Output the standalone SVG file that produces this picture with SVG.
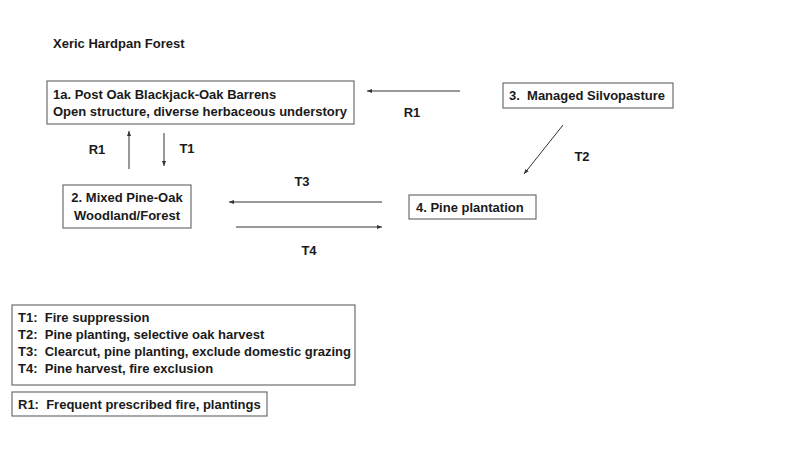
<svg xmlns="http://www.w3.org/2000/svg" width="800" height="450" viewBox="0 0 800 450">
<defs>
<style>
text{font-family:"Liberation Sans",Arial,sans-serif;font-weight:bold;font-size:13px;fill:#1a1a1a;white-space:pre}
.box{fill:#fff;stroke:#6e6e6e;stroke-width:1.2}
.ln{stroke:#333;stroke-width:1;fill:none;marker-end:url(#ah)}
.c{text-anchor:middle}
</style>
<marker id="ah" markerWidth="6" markerHeight="6" refX="5" refY="3" orient="auto" markerUnits="userSpaceOnUse">
<path d="M0,1 L5,3 L0,5 Z" fill="#333"/>
</marker>
</defs>
<rect width="800" height="450" fill="#fff"/>
<text x="53" y="48">Xeric Hardpan Forest</text>
<g id="n1a">
<rect class="box" x="47" y="81" width="307" height="43"/>
<text x="53" y="99">1a. Post Oak Blackjack-Oak Barrens</text>
<text x="53" y="116">Open structure, diverse herbaceous understory</text>
</g>
<g id="n3">
<rect class="box" x="503" y="83" width="170" height="25"/>
<text x="509" y="100" xml:space="preserve">3.  Managed Silvopasture</text>
</g>
<g id="n2">
<rect class="box" x="63" y="185" width="128" height="43"/>
<text class="c" x="127" y="202">2. Mixed Pine-Oak</text>
<text class="c" x="127" y="220">Woodland/Forest</text>
</g>
<g id="n4">
<rect class="box" x="409" y="195" width="127" height="24"/>
<text x="416" y="212">4. Pine plantation</text>
</g>
<g id="connectors">
<line class="ln" x1="460" y1="91" x2="367" y2="91"/>
<line class="ln" x1="563" y1="125" x2="524" y2="174"/>
<line class="ln" x1="129" y1="169" x2="129" y2="131"/>
<line class="ln" x1="164" y1="133" x2="164" y2="166"/>
<line class="ln" x1="382" y1="202" x2="229" y2="202"/>
<line class="ln" x1="236" y1="227" x2="382" y2="227"/>
<text class="c" x="412" y="117">R1</text>
<text class="c" x="582" y="161">T2</text>
<text class="c" x="97" y="154">R1</text>
<text class="c" x="187" y="153">T1</text>
<text class="c" x="302" y="186">T3</text>
<text class="c" x="309" y="255">T4</text>
</g>
<g id="legend">
<rect class="box" x="12" y="305" width="343" height="80"/>
<text x="18" y="322" xml:space="preserve">T1:  Fire suppression</text>
<text x="18" y="339" xml:space="preserve">T2:  Pine planting, selective oak harvest</text>
<text x="18" y="356" xml:space="preserve">T3:  Clearcut, pine planting, exclude domestic grazing</text>
<text x="18" y="373" xml:space="preserve">T4:  Pine harvest, fire exclusion</text>
</g>
<g id="legend-r1">
<rect class="box" x="12" y="392" width="255" height="24"/>
<text x="18" y="409" xml:space="preserve">R1:  Frequent prescribed fire, plantings</text>
</g>
</svg>
